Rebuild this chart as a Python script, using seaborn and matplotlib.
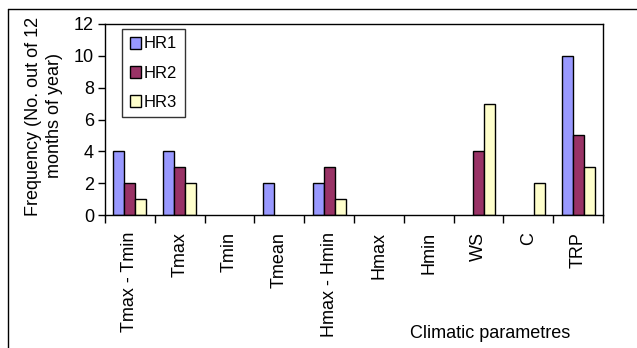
import matplotlib
matplotlib.use("Agg")
import matplotlib.pyplot as plt
import seaborn as sns
import pandas as pd
import numpy as np
from matplotlib.lines import Line2D

categories = ["Tmax - Tmin", "Tmax", "Tmin", "Tmean", "Hmax - Hmin", "Hmax", "Hmin", "WS", "C", "TRP"]
hr1 = [4, 4, 0, 2, 2, 0, 0, 0, 0, 10]
hr2 = [2, 3, 0, 0, 3, 0, 0, 4, 0, 5]
hr3 = [1, 2, 0, 0, 1, 0, 0, 7, 2, 3]
series_names = ["HR1", "HR2", "HR3"]
colors = ["#9999FF", "#993366", "#FFFFCC"]

rows = []
for name, vals in zip(series_names, [hr1, hr2, hr3]):
    for c, v in zip(categories, vals):
        rows.append({"cat": c, "series": name, "value": v})
df = pd.DataFrame(rows)

sns.set_style("white")
plt.rcParams['font.family'] = ['Liberation Sans', 'DejaVu Sans']
plt.rcParams['text.color'] = 'black'
plt.rcParams['xtick.color'] = 'black'
plt.rcParams['ytick.color'] = 'black'
plt.rcParams['axes.labelcolor'] = 'black'

W, H = 637, 348
fig = plt.figure(figsize=(W / 100, H / 100), dpi=100)
ax = fig.add_axes([105 / W, 1 - 215 / H, (603 - 105) / W, (215 - 24) / H])

sns.barplot(data=df, x="cat", y="value", hue="series", order=categories,
            hue_order=series_names, palette=colors, width=0.66,
            edgecolor="black", linewidth=1, ax=ax, saturation=1)

for cont in ax.containers:
    for bar in cont:
        if bar.get_height() == 0:
            bar.set_visible(False)

ax.set_ylim(0, 12)
ax.set_yticks(range(0, 13, 2))
ax.set_xlim(-0.5, len(categories) - 0.5)
ax.tick_params(axis="y", labelsize=13, length=5, width=1, direction="out", left=True,
               color="black", labelcolor="black", pad=3)
ax.set_xticks(range(len(categories)))
ax.set_xticklabels(categories, rotation=90, fontsize=13, va="top", color="black")
ax.tick_params(axis="x", which="major", length=0, pad=12)
ax.set_xticks(np.arange(-0.5, len(categories), 1), minor=True)
ax.tick_params(axis="x", which="minor", length=6, width=1, bottom=True, color="black")
for s in ax.spines.values():
    s.set_visible(True)
    s.set_color("black")
    s.set_linewidth(1)

ax.set_xlabel("")
ax.set_ylabel("")
fig.text(44 / W, 1 - 116 / H, "Frequency (No. out of 12\nmonths of year)", rotation=90,
         ha="center", va="center", fontsize=13, linespacing=1.25, color="black")
fig.text(490 / W, 1 - 333 / H, "Climatic parametres", ha="center", va="center",
         fontsize=13, color="black")

leg = ax.legend(loc="upper left", bbox_to_anchor=(17 / 498, 1 - 5 / 191), fontsize=12,
                frameon=True, fancybox=False, edgecolor="black", handlelength=0.7,
                handleheight=0.7, labelspacing=0.85, borderpad=0.45, handletextpad=0.15,
                borderaxespad=0)
leg.get_frame().set_linewidth(1)
for t in leg.get_texts():
    t.set_color("black")

fig.add_artist(Line2D([8 / W, 1], [1 - 9 / H, 1 - 9 / H], color="black", lw=1, transform=fig.transFigure))
fig.add_artist(Line2D([8 / W, 8 / W], [1 - 9 / H, 0], color="black", lw=1, transform=fig.transFigure))

fig.savefig("out.png", dpi=100)
